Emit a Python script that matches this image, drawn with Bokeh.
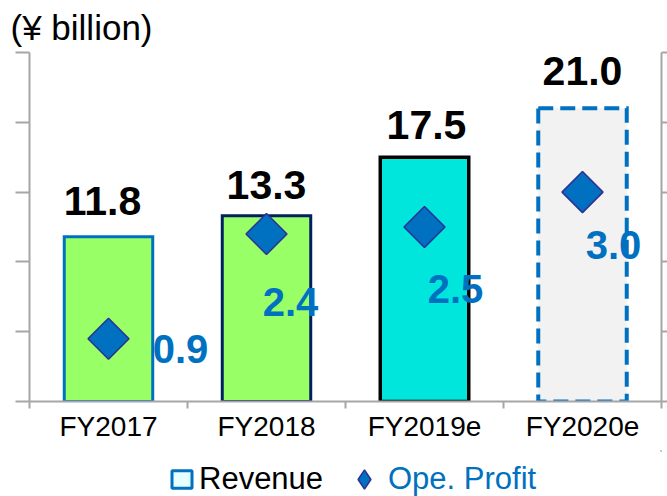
import math
from bokeh.plotting import figure
from bokeh.layouts import column
from bokeh.models import Range1d, LinearAxis, FixedTicker, Label, Legend, LegendItem
from bokeh.embed import file_html
from bokeh.resources import INLINE

# ---- data ----
categories = ["FY2017", "FY2018", "FY2019e", "FY2020e"]
revenue = [11.8, 13.3, 17.5, 21.0]
op_profit = [0.9, 2.4, 2.5, 3.0]
revenue_ticks = [0, 5, 10, 15, 20, 25]
profit_ticks = [0, 1, 2, 3, 4, 5]

# ---- styles ----
bar_fill = ["#99FF66", "#99FF66", "#00E6DD", "#F2F2F2"]
bar_line = ["#0070C0", "#002060", "#000000", "#0070C0"]
bar_dash = ["solid", "solid", "solid", "15 7"]
bar_lw = [3, 3, 3.5, 4]
rev_label_dx = [-6, 0, 2, 0]              # px offsets of value labels
rev_label_dy = [36, 31, 32, 37]
profit_label_dx = [72, 24, 31, 31]
profit_label_dy = [-10, -68, -62, -53]
BLUE = "#0070C0"
GRID = "#A6A6A6"
FONT = "Liberation Sans"

xs = [i + 0.5 for i in range(len(categories))]
bounds = list(range(len(categories) + 1))

p = figure(width=667, height=450, output_backend="svg", toolbar_location=None,
           x_range=Range1d(0, len(categories)), y_range=Range1d(revenue_ticks[0], revenue_ticks[-1]),
           min_border_left=29, min_border_right=6, min_border_top=52, min_border_bottom=49,
           x_axis_type=None, y_axis_type=None)
p.extra_y_ranges = {"profit": Range1d(profit_ticks[0], profit_ticks[-1])}
p.outline_line_color = None
p.background_fill_color = "white"
p.border_fill_color = "white"

p.title.text = "(¥ billion)"
p.title.text_font = FONT
p.title.text_font_size = "35px"
p.title.text_font_style = "normal"
p.title.text_color = "black"
p.title.align = "left"
p.title.offset = -19
p.title.standoff = 11

# left axis (revenue)
yl = LinearAxis(ticker=FixedTicker(ticks=revenue_ticks, minor_ticks=[]),
                major_label_overrides={t: "" for t in revenue_ticks}, major_label_standoff=0,
                major_tick_out=14, major_tick_in=0,
                axis_line_color=GRID, axis_line_width=2,
                major_tick_line_color=GRID, major_tick_line_width=2)
p.add_layout(yl, "left")
# right axis (profit)
yr = LinearAxis(y_range_name="profit", ticker=FixedTicker(ticks=profit_ticks, minor_ticks=[]),
                major_label_overrides={t: "" for t in profit_ticks}, major_label_standoff=0,
                major_tick_out=6, major_tick_in=0,
                axis_line_color=GRID, axis_line_width=2,
                major_tick_line_color=GRID, major_tick_line_width=2)
p.add_layout(yr, "right")
# bottom axis
xa = LinearAxis(ticker=FixedTicker(ticks=xs, minor_ticks=bounds),
                major_label_overrides={x: c for x, c in zip(xs, categories)},
                major_tick_line_color=None, major_tick_out=0, major_tick_in=0,
                minor_tick_out=7, minor_tick_in=0,
                minor_tick_line_color=GRID, minor_tick_line_width=2,
                axis_line_color=GRID, axis_line_width=2,
                major_label_standoff=2,
                major_label_text_font=FONT, major_label_text_font_size="28px",
                major_label_text_color="black")
p.add_layout(xa, "below")

p.ygrid.ticker = FixedTicker(ticks=revenue_ticks, minor_ticks=[])
p.ygrid.grid_line_color = GRID
p.ygrid.grid_line_width = 2
p.xgrid.grid_line_color = None

# revenue value labels with white boxes (under the bars)
for i in range(len(categories)):
    p.add_layout(Label(x=xs[i], y=revenue[i], text=f"{revenue[i]:.1f}",
                       x_offset=rev_label_dx[i], y_offset=rev_label_dy[i],
                       text_align="center", text_baseline="middle",
                       text_font=FONT, text_font_size="41px", text_font_style="bold",
                       text_color="black", background_fill_color="white", padding=8,
                       level="underlay"))

# bars
for i in range(len(categories)):
    p.vbar(x=[xs[i]], top=[revenue[i]], bottom=0, width=0.56,
           fill_color=bar_fill[i], line_color=bar_line[i], line_width=bar_lw[i],
           line_dash=bar_dash[i], line_join="miter")

# op profit diamonds
p.scatter(x=xs, y=op_profit, y_range_name="profit", marker="square", angle=math.pi / 4,
          size=29, fill_color=BLUE, line_color="#2E3192", line_width=1.5)

for i in range(len(categories)):
    p.add_layout(Label(x=xs[i], y=op_profit[i], y_range_name="profit", text=f"{op_profit[i]:.1f}",
                       x_offset=profit_label_dx[i], y_offset=profit_label_dy[i],
                       text_align="center", text_baseline="middle",
                       text_font=FONT, text_font_size="40px", text_font_style="bold",
                       text_color=BLUE))

# ---- legend strip ----
pl = figure(width=667, height=46, output_backend="svg", toolbar_location=None,
            x_range=Range1d(0, 1), y_range=Range1d(0, 1),
            min_border_left=0, min_border_right=0, min_border_top=0, min_border_bottom=0,
            x_axis_type=None, y_axis_type=None)
pl.outline_line_color = None
pl.xgrid.grid_line_color = None
pl.ygrid.grid_line_color = None
# legend-only renderers: their single point lies outside the visible ranges
leg_rev = pl.vbar(x=[9], top=[9], bottom=8, width=0.5, fill_color="#E6FFFF", line_color=BLUE,
                  line_width=3)
leg_pro = pl.scatter(x=[9], y=[9], marker="diamond", fill_color=BLUE, line_color="#2E3192",
                     line_width=1.5)

l1 = Legend(items=[LegendItem(label="Revenue", renderers=[leg_rev])], location=(140, -1),
            orientation="horizontal", label_text_font=FONT, label_text_font_size="31px",
            label_text_color="black", glyph_width=25, glyph_height=22, label_standoff=5,
            padding=0, margin=0, spacing=0, border_line_color=None, background_fill_alpha=0)
l2 = Legend(items=[LegendItem(label="Ope. Profit", renderers=[leg_pro])], location=(311, -7),
            orientation="horizontal", label_text_font=FONT, label_text_font_size="31px",
            label_text_color=BLUE, glyph_width=48, glyph_height=48, label_standoff=0,
            padding=0, margin=0, spacing=0, border_line_color=None, background_fill_alpha=0)
pl.add_layout(l1, "center")
pl.add_layout(l2, "center")

layout = column(p, pl, spacing=0)
open("out.html", "w").write(file_html(layout, INLINE))
